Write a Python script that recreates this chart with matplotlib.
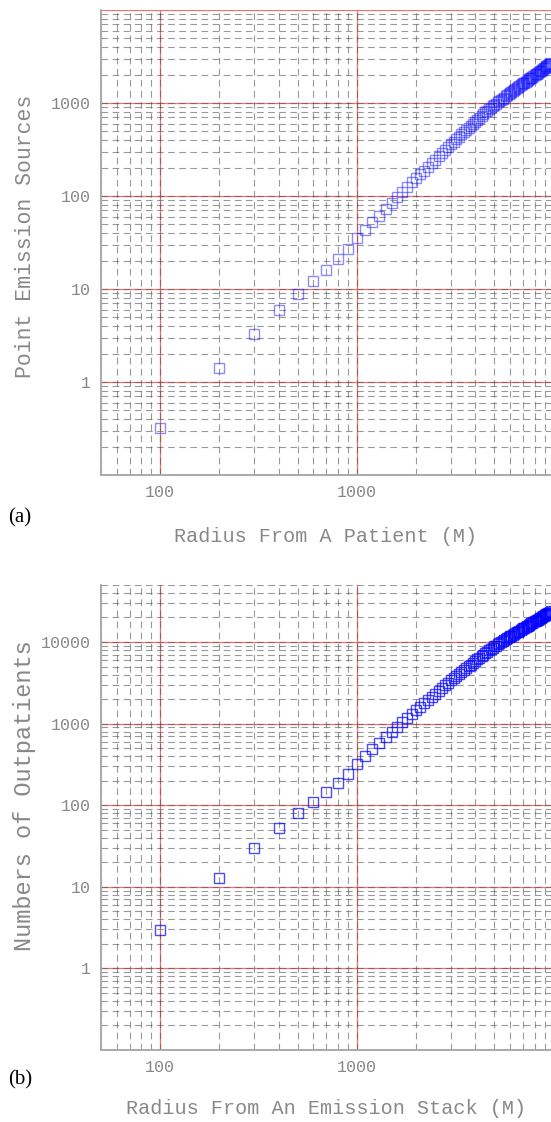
import matplotlib
matplotlib.use("Agg")
import matplotlib.pyplot as plt
from matplotlib.ticker import FixedLocator, LogLocator, NullFormatter

# radius (m) for every plotted point, shared by both panels
radius = list(range(100, 9800, 100))

# (a) point emission sources within the radius of a patient
sources = [
    0.324, 1.41, 3.27, 5.89, 8.91, 12.3, 16.2, 20.9, 26.9, 35.1,
    43.2, 51.9, 61.7, 72.4, 84.1, 96.6, 110, 124, 140, 155,
    172, 188, 207, 226, 245, 266, 288, 313, 339, 363,
    385, 409, 435, 461, 490, 515, 542, 570, 600, 631,
    661, 692, 724, 759, 794, 824, 855, 887, 920, 955,
    984, 1014, 1045, 1076, 1109, 1143, 1178, 1213, 1250, 1288,
    1318, 1349, 1380, 1413, 1445, 1479, 1514, 1549, 1585, 1622,
    1656, 1690, 1726, 1762, 1799, 1837, 1875, 1914, 1954, 1995,
    2032, 2070, 2109, 2148, 2188, 2228, 2270, 2312, 2355, 2399,
    2438, 2477, 2518, 2559, 2600, 2642, 2692,
]

# (b) outpatients within the radius of an emission stack
outpatients = [
    2.92, 12.7, 29.5, 53, 80, 111, 146, 188, 243, 316,
    406, 488, 580, 681, 791, 908, 1034, 1166, 1316, 1457,
    1617, 1767, 1946, 2124, 2303, 2500, 2707, 2942, 3187, 3412,
    3580, 3804, 4046, 4287, 4557, 4790, 5041, 5301, 5580, 5868,
    6114, 6401, 6697, 7021, 7345, 7622, 7909, 8205, 8510, 8834,
    9053, 9329, 9614, 9899, 10203, 10516, 10838, 11160, 11500, 11850,
    11994, 12276, 12558, 12858, 13150, 13459, 13777, 14096, 14424, 14760,
    14904, 15210, 15534, 15858, 16191, 16533, 16875, 17226, 17586, 17955,
    18085, 18423, 18770, 19117, 19473, 19829, 20203, 20577, 20960, 21351,
    21454, 21798, 22158, 22519, 22880, 23250, 23690,
]

x_ticks = [100, 1000]
a_yticks = [1, 10, 100, 1000]
b_yticks = [1, 10, 100, 1000, 10000]
decades_y = [1, 10, 100, 1000, 10000]

GRAY = "#888888"
MONO = "Liberation Mono"

W, H = 551, 1122
fig = plt.figure(figsize=(W / 100, H / 100), dpi=100)


def px_axes(left, top, right, bottom):
    return fig.add_axes([left / W, 1 - bottom / H, (right - left) / W, (bottom - top) / H])


def style_panel(ax, y, yticks, ylim, ylabel, xlabel, marker_alpha, ylabel_size):
    ax.set_xscale("log")
    ax.set_yscale("log")
    ax.set_xlim(50, 9700)
    ax.set_ylim(*ylim)

    ax.xaxis.set_major_locator(FixedLocator(x_ticks))
    ax.yaxis.set_major_locator(FixedLocator(yticks))
    ax.xaxis.set_minor_locator(LogLocator(base=10, subs=range(2, 10)))
    ax.yaxis.set_minor_locator(LogLocator(base=10, subs=range(2, 10), numticks=20))
    ax.xaxis.set_minor_formatter(NullFormatter())
    ax.yaxis.set_minor_formatter(NullFormatter())
    ax.set_xticklabels([str(t) for t in x_ticks])
    ax.set_yticklabels([str(t) for t in yticks])
    ax.tick_params(which="both", length=0, colors=GRAY, labelsize=12, pad=7)
    for lab in ax.get_xticklabels() + ax.get_yticklabels():
        lab.set_fontfamily(MONO)

    # red decade lines, gray dashed lines on every tick
    for v in decades_y:
        ax.axhline(v, color="#f07070", lw=0.9, zorder=0.5)
    for v in x_ticks:
        ax.axvline(v, color="#f07070", lw=0.9, zorder=0.5)
    ax.grid(which="both", color="#555555", alpha=0.6, lw=0.8, dashes=(6, 4))
    ax.set_axisbelow(True)

    for side in ["top", "right"]:
        ax.spines[side].set_visible(False)
    for side in ["left", "bottom"]:
        ax.spines[side].set_color("#aaaaaa")
        ax.spines[side].set_linewidth(1.4)

    ax.plot(radius, y, ls="none", marker="s", markersize=6.5, mfc="none",
            mec="blue", mew=1.0, alpha=marker_alpha, zorder=3)

    ax.set_ylabel(ylabel, fontfamily=MONO, fontsize=ylabel_size, color=GRAY)
    ax.set_xlabel(xlabel, fontfamily=MONO, fontsize=14.5, color=GRAY)


ax_a = px_axes(101, 10, 551, 475)
style_panel(ax_a, sources, a_yticks, (0.1, 10000), "Point Emission Sources",
            "Radius From A Patient (M)", 0.45, 15.5)
ax_a.yaxis.set_label_coords(-0.145, 0.514)
ax_a.xaxis.set_label_coords(0.5, -0.112)

ax_b = px_axes(101, 585, 551, 1050)
style_panel(ax_b, outpatients, b_yticks, (0.1, 50000), "Numbers of Outpatients",
            "Radius From An Emission Stack (M)", 0.7, 17)
ax_b.yaxis.set_label_coords(-0.145, 0.546)
ax_b.xaxis.set_label_coords(0.5, -0.105)

fig.text(8 / W, 1 - 518 / H, "(a)", fontfamily="Liberation Serif", fontsize=15,
         va="center", ha="left")
fig.text(8 / W, 1 - 1080 / H, "(b)", fontfamily="Liberation Serif", fontsize=15,
         va="center", ha="left")

fig.savefig("out.png", dpi=100)
